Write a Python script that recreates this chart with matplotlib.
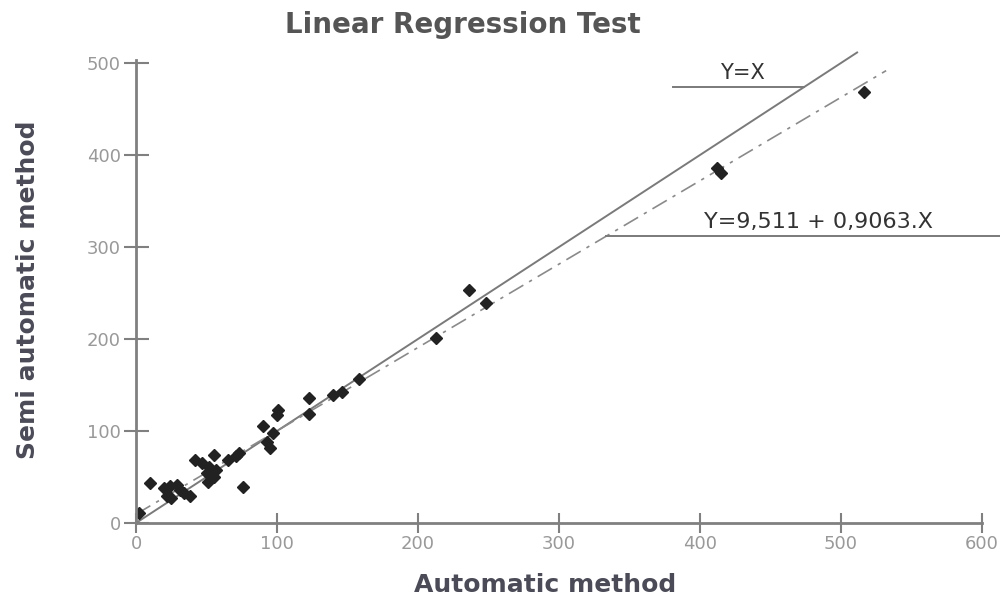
import numpy as np
import matplotlib
matplotlib.use("Agg")
import matplotlib.pyplot as plt

# values
auto = [2, 10, 20, 22, 24, 25, 29, 31, 34, 38, 42, 47, 50, 51, 52, 55, 55, 57,
        65, 71, 73, 76, 90, 93, 95, 97, 100, 101, 123, 123, 140, 146, 158,
        213, 236, 248, 412, 415, 516]
semi = [11, 44, 38, 29, 40, 27, 41, 36, 33, 29, 68, 65, 54, 45, 61, 74, 50, 58,
        68, 73, 76, 39, 105, 88, 81, 98, 117, 123, 136, 119, 139, 142, 156,
        201, 253, 239, 386, 380, 469]

intercept = 9.511
slope = 0.9063
xticks = [0, 100, 200, 300, 400, 500, 600]
yticks = [0, 100, 200, 300, 400, 500]

fig = plt.figure(figsize=(10, 6.01), dpi=100)
ax = fig.add_axes([0.136, 0.1298, 0.846, 0.770])

# identity line and fitted line
xs = np.array([0, 512])
ax.plot(xs, xs, color="#7a7a7a", lw=1.4, solid_capstyle="butt", clip_on=False)
xr = np.array([0, 532])
ax.plot(xr, intercept + slope * xr, color="#8a8a8a", lw=1.2,
        dashes=(10, 4, 2, 4))

ax.plot(auto, semi, "D", color="#222222", ms=6.5, mec="#222222")

# annotations with leader lines
ax.plot([381, 474], [474, 474], color="#7a7a7a", lw=1.4, clip_on=False)
ax.text(430, 489, "Y=X", ha="center", va="center", fontsize=15, color="#333333")
ax.plot([333, 615], [312, 312], color="#7a7a7a", lw=1.4, clip_on=False)
ax.text(484, 327, "Y=9,511 + 0,9063.X", ha="center", va="center",
        fontsize=16, color="#333333")

ax.set_xlim(0, 600)
ax.set_ylim(0, 503)
ax.set_xticks(xticks)
ax.set_yticks(yticks)
for s in ["top", "right"]:
    ax.spines[s].set_visible(False)
for s in ["left", "bottom"]:
    ax.spines[s].set_color("#808080")
    ax.spines[s].set_linewidth(2)
ax.spines["bottom"].set_bounds(0, 600)
ax.tick_params(axis="x", direction="inout", length=14, width=1.5,
               color="#808080", labelcolor="#999999", labelsize=13, pad=2)
ax.tick_params(axis="y", direction="inout", length=18, width=1.5,
               color="#808080", labelcolor="#999999", labelsize=13, pad=2)

fig.text(0.463, 1 - 25 / 601, "Linear Regression Test", ha="center",
         va="center", fontsize=20, fontweight="bold", color="#555555")
fig.text(0.545, 1 - 585 / 601, "Automatic method", ha="center", va="center",
         fontsize=18, fontweight="bold", color="#4b4b58")
fig.text(0.028, 1 - 290 / 601, "Semi automatic method", ha="center",
         va="center", rotation=90, fontsize=18, fontweight="bold",
         color="#4b4b58")

fig.savefig("out.png", dpi=100)
